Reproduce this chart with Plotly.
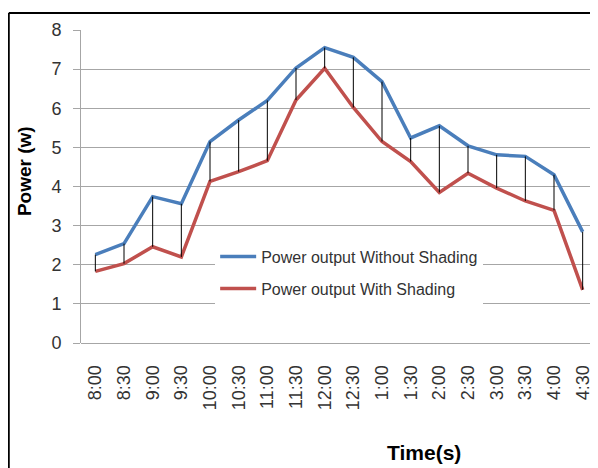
import plotly.graph_objects as go

times = ["8:00", "8:30", "9:00", "9:30", "10:00", "10:30", "11:00", "11:30", "12:00",
         "12:30", "1:00", "1:30", "2:00", "2:30", "3:00", "3:30", "4:00", "4:30"]
without_shading = [2.26, 2.54, 3.74, 3.56, 5.15, 5.70, 6.20, 7.03, 7.55,
                   7.30, 6.68, 5.24, 5.55, 5.04, 4.81, 4.77, 4.30, 2.84]
with_shading = [1.83, 2.03, 2.46, 2.20, 4.13, 4.38, 4.66, 6.21, 7.02,
                6.02, 5.15, 4.64, 3.85, 4.34, 3.96, 3.63, 3.39, 1.36]
y_ticks = [0, 1, 2, 3, 4, 5, 6, 7, 8]

BLUE = "#4A7EBB"
RED = "#C0504D"
FONT = "Liberation Sans, Arial, sans-serif"

# high-low drop lines between the two series
hl_x, hl_y = [], []
for t, a, b in zip(times, without_shading, with_shading):
    hl_x += [t, t, None]
    hl_y += [a, b, None]

fig = go.Figure()
fig.add_trace(go.Scatter(x=times, y=without_shading, mode="lines",
                         name="Power output Without Shading", legendgroup="a",
                         line=dict(color=BLUE, width=3.5)))
fig.add_trace(go.Scatter(x=times, y=with_shading, mode="lines",
                         name="Power output With Shading", legendgroup="b",
                         line=dict(color=RED, width=3.5)))
fig.add_trace(go.Scatter(x=hl_x, y=hl_y, mode="lines", showlegend=False,
                         line=dict(color="black", width=1)))

fig.update_layout(
    width=598, height=468,
    margin=dict(l=72.7, r=9.4, t=22, b=132.7, autoexpand=False),
    paper_bgcolor="white", plot_bgcolor="white",
    font=dict(family=FONT, color="#333333"),
    showlegend=True,
    legend=dict(x=0.26, y=0.33, xanchor="left", yanchor="top",
                bgcolor="white", font=dict(size=16, color="#333333"),
                tracegroupgap=8, itemwidth=36),
    xaxis=dict(type="category", range=[-0.5, len(times) - 0.5],
               tickangle=-90, showgrid=False, automargin=False,
               tickfont=dict(size=18, color="#333333"),
               ticks="outside", ticklen=14, tickcolor="rgba(0,0,0,0)",
               showline=False, zeroline=False),
    yaxis=dict(range=[0, 8], tickvals=y_ticks, showgrid=True, automargin=False,
               gridcolor="#A6A6A6", gridwidth=1,
               showline=True, linecolor="#A6A6A6", linewidth=1,
               ticks="outside", ticklen=7, tickcolor="#A6A6A6",
               ticklabelstandoff=8,
               tickfont=dict(size=18, color="#333333"),
               zeroline=True, zerolinecolor="#A6A6A6", zerolinewidth=1),
    shapes=[
        dict(type="line", xref="paper", yref="paper", x0=-0.140, x1=-0.140,
             y0=1.0543, y1=-0.5, line=dict(color="black", width=2)),
        dict(type="line", xref="paper", yref="paper", x0=-0.140, x1=1.1,
             y0=1.0543, y1=1.0543, line=dict(color="black", width=2)),
    ],
    annotations=[
        dict(text="<b>Power (w)</b>", xref="paper", yref="paper",
             x=-0.108, y=0.55, xanchor="center", yanchor="middle",
             textangle=-90, showarrow=False,
             font=dict(size=19, color="black")),
        dict(text="<b>Time(s)</b>", xref="paper", yref="paper",
             x=0.665, y=-0.350, xanchor="center", yanchor="middle",
             showarrow=False, font=dict(size=21, color="black")),
    ],
)

fig.write_html("out.html")
